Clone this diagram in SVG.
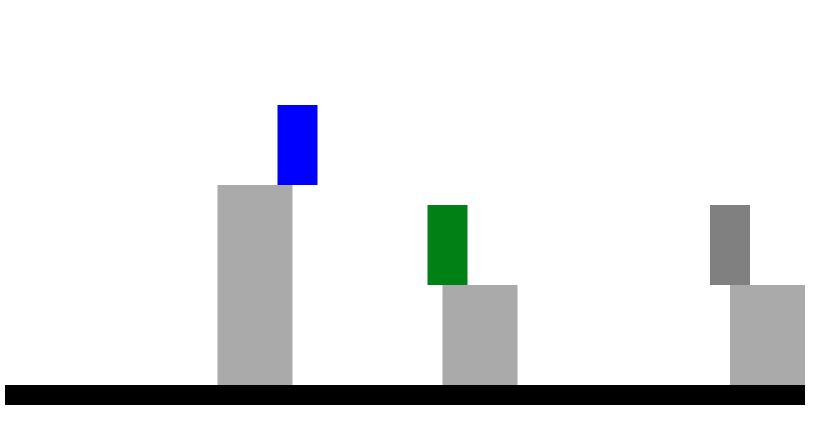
<svg xmlns="http://www.w3.org/2000/svg" width="817" height="432" viewBox="0 0 817 432">
<style>.pillar{fill:#aaaaaa}</style>
<rect width="817" height="432" fill="#ffffff"/>
<g id="pillar1"><rect class="pillar" x="217.5" y="185" width="75" height="200"/></g>
<g id="pillar2"><rect class="pillar" x="442.5" y="285" width="75" height="100"/></g>
<g id="pillar3"><rect class="pillar" x="730" y="285" width="75" height="100"/></g>
<g id="blue"><rect x="277.5" y="105" width="40" height="80" fill="#0000ff"/></g>
<g id="green"><rect x="427.5" y="205" width="40" height="80" fill="#008015"/></g>
<g id="gray"><rect x="710" y="205" width="40" height="80" fill="#808080"/></g>
<g id="ground"><rect x="5" y="385" width="800" height="20" fill="#000000"/></g>
</svg>
